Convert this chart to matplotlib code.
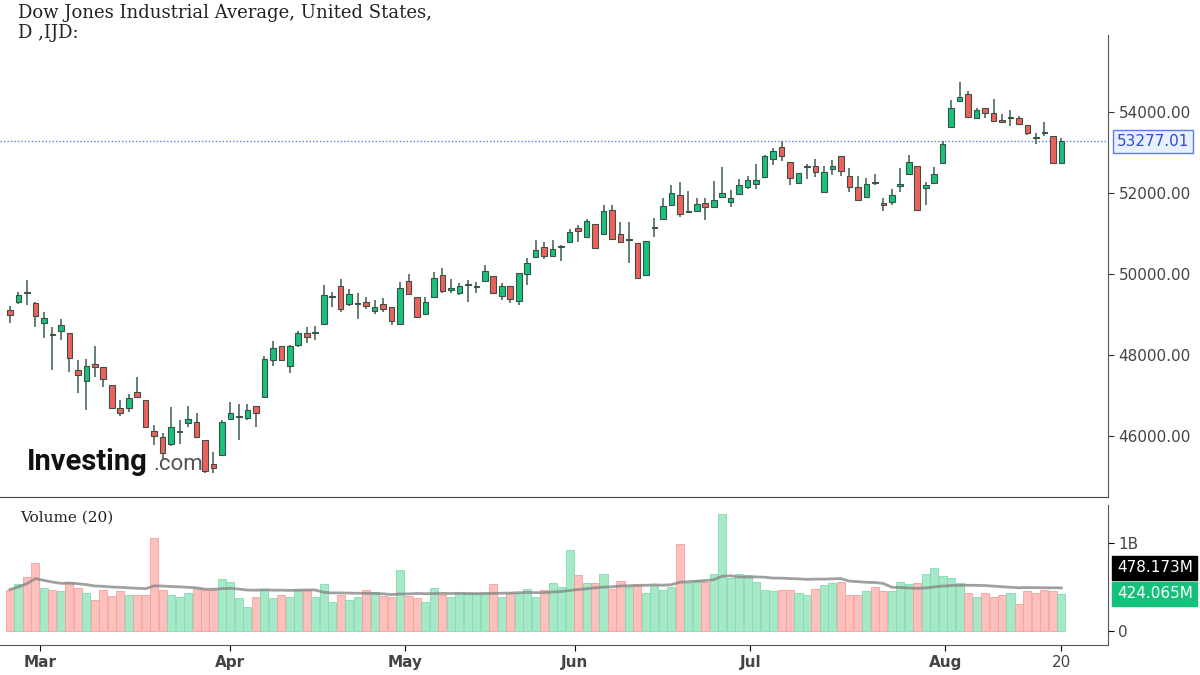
import matplotlib
matplotlib.use("Agg")
import matplotlib.pyplot as plt
from matplotlib.patches import Rectangle
import numpy as np
import pandas as pd

opens = [49100,49300,49560,49280,48790,48520,48590,48540,47630,47360,47780,47700,47260,46690,46690,47090,46890,46120,45970,45800,
         46100,46320,46350,45900,45310,45530,46420,46460,46440,46740,46960,47880,48220,47730,48250,48540,48550,48770,49420,49700,
         49260,49270,49310,49090,49260,49190,48770,49830,49430,49010,49430,49980,49610,49530,49740,49670,49830,49950,49460,49700,
         49330,50000,50420,50670,50440,50660,50790,51140,50910,51230,50990,51580,50990,50850,50770,49980,51140,51360,51700,51950,
         51520,51560,51750,51650,51900,51780,51980,52150,52220,52400,52840,53140,52760,52250,52630,52670,52030,52590,52910,52420,
         52150,51900,52260,51760,51780,52180,52470,52670,52120,52250,52740,53630,54270,54440,53850,54100,53980,53800,53840,53850,
         53680,53370,53510,53410,52740]
closes = [49000,49480,49520,48960,48910,48490,48740,47930,47500,47730,47700,47410,46690,46570,46940,46960,46220,46000,45580,46220,
          46130,46420,45970,45140,45210,46350,46570,46480,46640,46570,47900,48170,47880,48220,48540,48450,48580,49480,49440,49140,
          49500,49290,49210,49190,49140,48840,49650,49500,48940,49310,49900,49580,49650,49700,49760,49690,50070,49530,49700,49380,
          50020,50270,50590,50440,50620,50680,51040,51060,51310,50640,51560,50860,50790,50870,49900,50810,51170,51680,52000,51480,
          51540,51730,51650,51830,52000,51880,52200,52320,52320,52910,53040,52910,52370,52500,52650,52520,52520,52670,52540,52150,
          51830,52220,52240,51700,51950,52220,52760,51580,52200,52470,53210,54100,54370,53880,54050,53980,53780,53750,53860,53700,
          53480,53350,53480,52740,53277.01]
highs = [49200,49550,49850,49300,49060,48690,48890,48540,47880,47900,48220,47700,47260,46890,47040,47460,46890,46270,46070,46710,
         46400,46740,46570,45900,45600,46400,46840,46790,46790,46740,47980,48350,48220,48250,48590,48700,48720,49730,49560,49880,
         49630,49530,49430,49370,49400,49190,49800,50000,49430,49430,50050,50150,49880,49780,49850,49800,50220,49950,49780,49700,
         50020,50390,50830,50790,50830,50710,51100,51210,51350,51230,51700,51700,51280,51280,50770,50810,51380,51880,52200,52270,
         52050,51880,51880,52300,52640,52070,52350,52420,52710,52940,53110,53280,52760,52500,52720,52840,52670,52820,52910,52620,
         52420,52370,52470,51880,52100,52620,52940,52670,52270,52640,53280,54300,54740,54520,54100,54100,54320,53950,54050,53900,
         53680,53480,53750,53410,53360]
lows = [48800,49250,49230,48700,48420,47630,48370,47580,47060,46640,47460,47210,46690,46500,46600,46960,46220,45780,45410,45750,
        45800,46220,45950,45090,45090,45530,46400,45900,46400,46220,46960,47730,47880,47560,48200,48300,48370,48770,49180,49060,
        49200,48890,49140,49010,49060,48740,48770,49500,48940,49010,49430,49530,49530,49480,49310,49530,49830,49530,49360,49280,
        49230,49730,50420,50370,50440,50320,50790,50790,50880,50640,50990,50860,50790,50270,49900,49980,50910,51360,51700,51410,
        51520,51560,51330,51650,51900,51650,51980,52100,52100,52400,52700,52790,52200,52250,52350,52400,52030,52450,52420,52030,
        51830,51900,52200,51560,51700,52030,52470,51580,51700,52250,52740,53630,54270,53880,53850,53850,53780,53730,53650,53700,
        53430,53210,53400,52740,52740]
volumes = [0.47,0.53,0.61,0.77,0.49,0.46,0.45,0.56,0.49,0.43,0.35,0.47,0.40,0.45,0.41,0.41,0.41,1.05,0.47,0.41,
           0.39,0.43,0.48,0.47,0.47,0.59,0.55,0.37,0.27,0.39,0.46,0.37,0.41,0.39,0.47,0.46,0.39,0.53,0.33,0.41,
           0.35,0.39,0.47,0.44,0.40,0.39,0.69,0.40,0.37,0.33,0.49,0.41,0.39,0.43,0.43,0.43,0.43,0.53,0.39,0.43,
           0.43,0.48,0.39,0.46,0.54,0.50,0.92,0.63,0.54,0.54,0.65,0.48,0.57,0.50,0.52,0.43,0.52,0.47,0.50,0.99,
           0.54,0.58,0.56,0.65,1.33,0.60,0.65,0.63,0.56,0.47,0.45,0.47,0.47,0.43,0.41,0.48,0.52,0.54,0.56,0.41,
           0.41,0.45,0.50,0.45,0.45,0.56,0.53,0.54,0.65,0.72,0.62,0.60,0.54,0.43,0.39,0.43,0.39,0.41,0.43,0.31,
           0.45,0.43,0.47,0.45,0.424065]
vol_ma_last = 0.478173
month_labels = ["Mar", "Apr", "May", "Jun", "Jul", "Aug", "20"]
month_pos = [3.5, 25.9, 46.6, 66.6, 87.3, 110.3, 124]
price_ticks = [46000, 48000, 50000, 52000, 54000]

n = len(closes)
x = np.arange(n)
up = np.array(closes) >= np.array(opens)
vol_ma = pd.Series(volumes).rolling(20, min_periods=1).mean().values

fig = plt.figure(figsize=(12, 6.75), dpi=100)
ax = fig.add_axes([0, 1 - 497/675, 1108/1200, (497-35)/675])
axv = fig.add_axes([0, 1 - 645/675, 1108/1200, (645-505)/675])

GREEN, RED, EDGE = "#17c37b", "#f0605a", "#3b5147"
for i in range(n):
    ax.vlines(x[i], lows[i], highs[i], color="#4a6b5a", lw=1.2, zorder=2)
    lo, hi = min(opens[i], closes[i]), max(opens[i], closes[i])
    h = max(hi - lo, 25)
    ax.add_patch(Rectangle((x[i] - 0.33, lo), 0.66, h, facecolor=GREEN if up[i] else RED,
                           edgecolor=EDGE, lw=0.8, zorder=3))

xl = (-1.18, 129.5)
ax.set_xlim(*xl)
ax.set_ylim(44494, 55901)
ax.axhline(closes[-1], color="#5b7fe0", lw=1, ls=(0, (1, 1.5)), zorder=1)
ax.yaxis.tick_right()
ax.set_yticks(price_ticks)
ax.set_yticklabels([f"{v:.2f}" for v in price_ticks])
ax.tick_params(axis="y", colors="#333333", labelsize=11, length=4, labelcolor="#444444")
ax.set_xticks([])
for s in ["top", "left"]:
    ax.spines[s].set_visible(False)
ax.spines["right"].set_color("#555555")
ax.spines["bottom"].set_color("#444444")
ax.text(1.008, (closes[-1] - 44494) / (55901 - 44494), f"{closes[-1]:.2f}", transform=ax.transAxes,
        va="center", ha="left", fontsize=11, color="#2a4fc9",
        bbox=dict(boxstyle="square,pad=0.25", fc="#e8efff", ec="#5b7fe0", lw=1))

vcol = ["#a6e8c8" if u else "#fcc0bd" for u in up]
vedge = ["#7fdcae" if u else "#f7a09b" for u in up]
axv.bar(x, volumes, width=0.95, color=vcol, edgecolor=vedge, lw=0.6)
axv.plot(x, vol_ma, color="#888888", lw=2, alpha=0.8)
axv.set_xlim(*xl)
axv.set_ylim(-0.16, 1.43)
axv.yaxis.tick_right()
axv.set_yticks([0, 1.0])
axv.set_yticklabels(["0", "1B"])
axv.tick_params(axis="y", labelsize=11, labelcolor="#444444", length=4)
axv.set_xticks(month_pos)
axv.set_xticklabels(month_labels, fontsize=11, fontweight="bold", color="#444444")
for t in axv.get_xticklabels()[-1:]:
    t.set_fontweight("normal")
axv.tick_params(axis="x", length=4)
for s in ["top", "left"]:
    axv.spines[s].set_visible(False)
axv.spines["right"].set_color("#555555")
axv.spines["bottom"].set_color("#555555")
# value tags; TradingView-style stacking keeps them from overlapping
axv.text(1.008, 0.55, f"{vol_ma_last*1000:.3f}M", transform=axv.transAxes,
         va="center", ha="left", fontsize=11, color="white",
         bbox=dict(boxstyle="square,pad=0.3", fc="black", ec="black"))
axv.text(1.008, 0.365, f"{volumes[-1]*1000:.3f}M", transform=axv.transAxes,
         va="center", ha="left", fontsize=11, color="white",
         bbox=dict(boxstyle="square,pad=0.3", fc="#12c27a", ec="#12c27a"))
axv.text(0.018, 0.88, "Volume (20)", transform=axv.transAxes, fontsize=11, family="DejaVu Serif", color="#222222")

fig.text(18/1200, 1 - 13/675, "Dow Jones Industrial Average, United States,", fontsize=13,
         family="DejaVu Serif", va="center", color="#222222")
fig.text(18/1200, 1 - 33/675, "D ,IJD:", fontsize=13, family="DejaVu Serif", va="center", color="#222222")
fig.text(27/1200, 1 - 462/675, "Investing", fontsize=21, fontweight="bold", family="Roboto",
         color="#111111", va="center")
fig.text(153/1200, 1 - 465/675, ".com", fontsize=16, family="Roboto", color="#555555", va="center")

fig.savefig("out.png", dpi=100)
